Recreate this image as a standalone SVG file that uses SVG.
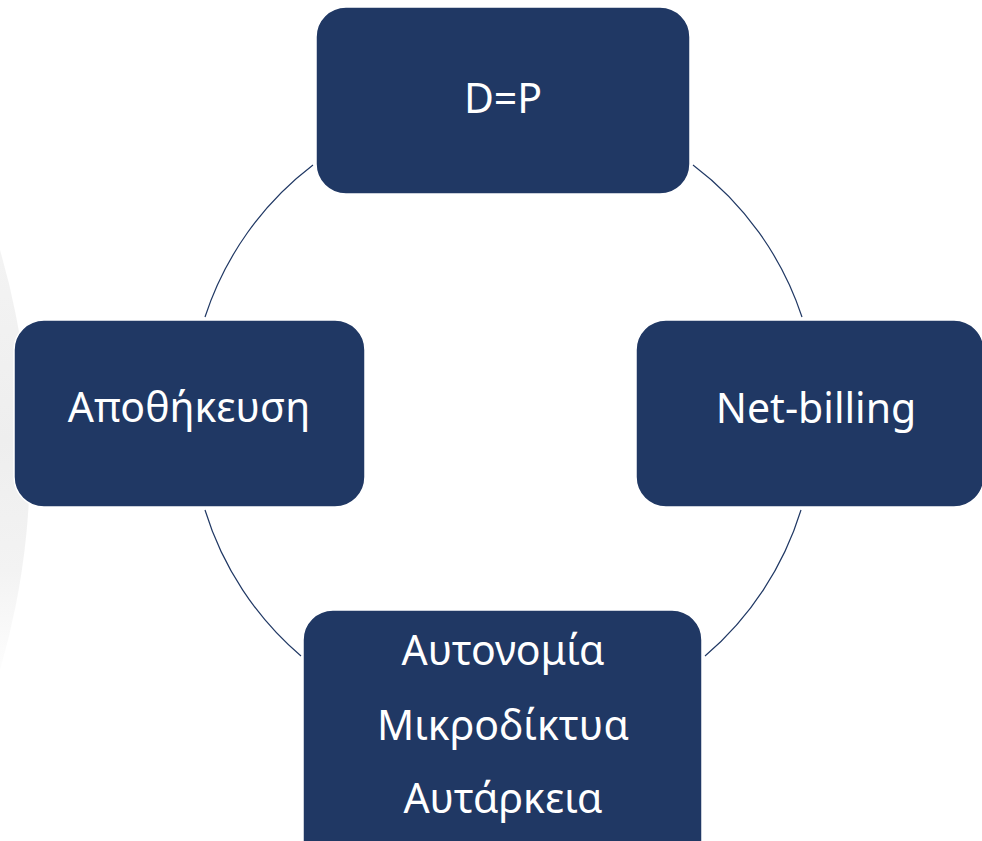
<svg xmlns="http://www.w3.org/2000/svg" width="982" height="841" viewBox="0 0 982 841">
  <defs>
    <linearGradient id="bgfade" gradientUnits="userSpaceOnUse" x1="0" y1="180" x2="0" y2="700">
      <stop offset="0" stop-color="#ffffff"/>
      <stop offset="0.15" stop-color="#f3f3f3"/>
      <stop offset="0.5" stop-color="#eeeeee"/>
      <stop offset="0.75" stop-color="#f3f3f3"/>
      <stop offset="0.9" stop-color="#fbfbfb"/>
      <stop offset="1" stop-color="#ffffff"/>
    </linearGradient>
  </defs>
  <style>
    .box { fill: #203864; stroke: #ffffff; stroke-width: 1.5; }
    .lbl { fill: #ffffff; font-family: "Noto Sans", "Open Sans", "Liberation Sans", sans-serif; font-size: 41px; text-anchor: middle; }
    .arc { fill: none; stroke: #203864; stroke-width: 1.2; }
  </style>
  <rect x="0" y="0" width="982" height="841" fill="#ffffff"/>
  <circle cx="-720" cy="460" r="750" fill="url(#bgfade)"/>

  <g id="connectors">
    <path class="arc" d="M313,165 A313,313 0 0 0 205,317"/>
    <path class="arc" d="M693,165 A313,313 0 0 1 802,317"/>
    <path class="arc" d="M205,510 A313,313 0 0 0 301,656"/>
    <path class="arc" d="M801,510 A313,313 0 0 1 705,656"/>
  </g>

  <g id="node-dp">
    <rect class="box" x="316" y="7" width="374" height="187" rx="30" ry="30"/>
    <text class="lbl" x="503" y="113">D=P</text>
  </g>
  <g id="node-storage">
    <rect class="box" x="14" y="320" width="351" height="187" rx="30" ry="30"/>
    <text class="lbl" x="189" y="422">Αποθήκευση</text>
  </g>
  <g id="node-netbilling">
    <rect class="box" x="636" y="320" width="348" height="187" rx="30" ry="30"/>
    <text class="lbl" x="816" y="423">Net-billing</text>
  </g>
  <g id="node-autonomy">
    <rect class="box" x="303" y="610" width="399" height="260" rx="30" ry="30"/>
    <text class="lbl" x="503" y="665">Αυτονομία</text>
    <text class="lbl" x="503" y="740">Μικροδίκτυα</text>
    <text class="lbl" x="503" y="813">Αυτάρκεια</text>
  </g>
</svg>
